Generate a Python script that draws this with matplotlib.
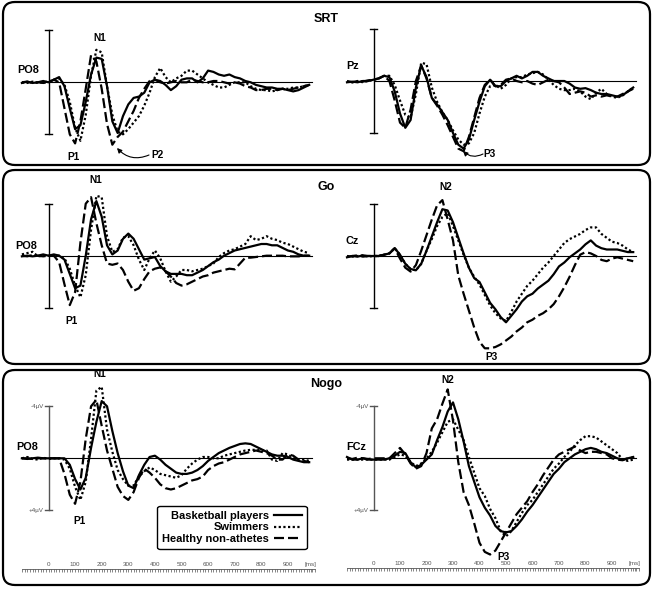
import numpy as np
import matplotlib
matplotlib.use("Agg")
import matplotlib.pyplot as plt
from matplotlib.patches import FancyBboxPatch
from matplotlib.lines import Line2D

plt.rcParams['font.family'] = ['Liberation Sans', 'DejaVu Sans']

# sample times (ms)
times = np.arange(-100, 1000, 20)

# amplitudes in microvolts (negative = up)
srt_po8_bb = [0.05, -0.05, 0.05, 0.0, -0.1, 0.0,
              -0.2, -0.4, 0.3, 2.0, 3.6, 3.3, 1.5, -0.6, -1.9, -1.8,
              0.3, 3.0, 3.9, 2.6, 1.7, 1.2, 1.1, 0.8, 0.0, -0.2,
              -0.1, 0.2, 0.6, 0.3, -0.2, -0.3, -0.3, 0.0, -0.3, -0.9,
              -0.8, -0.6, -0.5, -0.6, -0.4, -0.3, -0.1, 0.0, 0.2, 0.3,
              0.4, 0.4, 0.5, 0.5, 0.6, 0.7, 0.6, 0.4, 0.2]
srt_po8_sw = [0.0, 0.05, -0.05, 0.05, 0.0, -0.05,
              -0.2, -0.3, 0.2, 1.5, 3.5, 4.5, 2.5, -0.5, -2.5, -2.3,
              0.3, 2.5, 3.8, 4.0, 3.6, 3.1, 2.6, 1.8, 0.8, -0.4,
              -1.1, -0.4, 0.0, -0.3, -0.5, -0.9, -0.9, -0.6, -0.3, 0.0,
              0.2, 0.4, 0.4, 0.2, 0.0, 0.0, 0.0, 0.3, 0.5, 0.6,
              0.6, 0.7, 0.6, 0.5, 0.5, 0.4, 0.4, 0.3, 0.2]
srt_po8_hn = [0.0, -0.05, 0.05, 0.0, 0.05, 0.0,
              -0.2, 0.0, 2.0, 4.0, 4.7, 3.0, 0.5, -2.1, -1.6, 0.5,
              3.2, 4.8, 4.2, 3.8, 3.0, 2.2, 1.2, 0.5, -0.1, -0.2,
              0.0, 0.1, 0.0, -0.1, 0.0, 0.0, -0.2, -0.1, 0.0, 0.0,
              -0.1, -0.1, 0.0, 0.1, 0.0, 0.1, 0.3, 0.4, 0.6, 0.6,
              0.5, 0.5, 0.6, 0.5, 0.6, 0.5, 0.4, 0.3, 0.2]

srt_pz_bb = [0.1, 0.05, 0.1, 0.0, 0.0, -0.1,
             -0.2, -0.4, -0.3, 0.8, 2.5, 3.6, 3.0, 0.5, -1.2, -0.3,
             1.3, 1.8, 2.4, 3.0, 4.0, 4.9, 5.2, 4.5, 3.0, 1.6,
             0.4, -0.1, 0.4, 0.4, 0.0, -0.2, -0.4, -0.2, -0.4, -0.7,
             -0.7, -0.4, -0.2, 0.0, 0.0, 0.0, 0.2, 0.5, 0.6, 0.55,
             0.7, 0.9, 1.0, 1.0, 1.1, 1.2, 1.1, 0.8, 0.5]
srt_pz_sw = [0.05, 0.1, 0.0, 0.1, 0.0, -0.1,
             -0.2, -0.4, -0.4, 0.3, 1.5, 2.6, 2.8, 1.0, -1.4, -1.3,
             0.5, 1.6, 2.4, 3.0, 3.8, 4.5, 4.9, 4.8, 4.0, 2.5,
             1.2, 0.4, 0.3, 0.6, 0.3, -0.2, -0.3, -0.3, -0.5, -0.6,
             -0.7, -0.5, -0.1, 0.3, 0.6, 0.7, 0.7, 0.6, 0.8, 1.2,
             1.4, 0.9, 0.6, 1.0, 1.2, 1.3, 1.1, 0.8, 0.5]
srt_pz_hn = [0.0, 0.1, 0.0, 0.05, -0.05, -0.1,
             -0.2, -0.4, 0.0, 1.5, 3.2, 3.6, 2.2, 0.0, -1.2, -0.2,
             1.3, 1.9, 2.6, 3.4, 4.3, 5.2, 5.4, 4.3, 2.8, 1.3,
             0.3, -0.1, 0.4, 0.3, -0.1, -0.2, 0.0, 0.1, 0.0, 0.2,
             0.3, 0.1, -0.1, 0.0, 0.1, 0.5, 1.0, 0.9, 0.8, 0.9,
             1.2, 1.1, 1.2, 1.1, 1.2, 1.2, 1.0, 0.8, 0.6]

go_po8_bb = [0.05, 0.0, 0.05, 0.0, -0.1, 0.0,
             -0.1, 0.0, 0.3, 1.4, 2.5, 2.3, 0.0, -2.8, -4.2, -3.0,
             -0.8, -0.1, -0.4, -1.3, -1.7, -1.3, -0.5, 0.3, 0.2, 0.1,
             0.8, 1.2, 1.4, 1.4, 1.4, 1.5, 1.5, 1.3, 1.1, 0.8,
             0.5, 0.3, 0.0, -0.2, -0.4, -0.5, -0.6, -0.7, -0.8, -0.9,
             -0.9, -0.8, -0.8, -0.6, -0.4, -0.3, -0.1, 0.0, 0.0]
go_po8_sw = [-0.1, -0.2, -0.3, 0.05, 0.0, 0.0,
             0.0, 0.0, 0.2, 1.0, 2.3, 3.2, 1.5, -2.0, -4.6, -4.5,
             -1.5, -0.3, -0.5, -1.4, -1.5, -0.8, 0.3, 1.1, 0.2, -0.4,
             0.2, 1.2, 2.0, 1.6, 1.1, 1.1, 1.2, 1.1, 1.0, 0.8,
             0.6, 0.1, -0.2, -0.4, -0.5, -0.7, -0.9, -1.5, -1.2, -1.3,
             -1.5, -1.3, -1.2, -1.0, -0.9, -0.7, -0.5, -0.3, -0.2]
go_po8_hn = [0.0, 0.05, -0.05, 0.0, 0.05, 0.0,
             0.0, 0.5, 2.2, 3.8, 2.8, -1.0, -4.0, -4.5, -2.5, -0.8,
             0.6, 0.7, 0.6, 1.1, 2.0, 2.7, 2.5, 1.8, 1.2, 1.0,
             0.9, 1.2, 1.6, 2.1, 2.3, 2.2, 2.0, 1.8, 1.6, 1.5,
             1.3, 1.2, 1.1, 1.0, 1.05, 0.6, 0.15, 0.15, 0.1, 0.05,
             0.0, 0.0, 0.0, 0.0, 0.05, 0.05, 0.05, 0.0, 0.0]

go_cz_bb = [0.1, 0.0, 0.05, -0.05, 0.0, 0.0,
            0.0, -0.1, -0.2, -0.6, -0.1, 0.6, 1.0, 1.1, 0.6, -0.4,
            -1.5, -2.6, -3.6, -3.5, -2.6, -1.4, -0.2, 0.9, 1.7, 2.0,
            2.8, 3.6, 4.1, 4.7, 5.1, 4.6, 4.1, 3.5, 3.1, 2.9,
            2.5, 2.2, 1.9, 1.4, 0.8, 0.5, 0.1, -0.2, -0.5, -0.9,
            -1.2, -0.8, -0.6, -0.5, -0.5, -0.5, -0.4, -0.3, -0.3]
go_cz_sw = [0.0, 0.05, 0.0, -0.05, 0.05, 0.0,
            0.0, -0.1, -0.2, -0.6, -0.1, 0.6, 1.0, 1.1, 0.6, -0.4,
            -1.3, -2.3, -3.0, -3.3, -2.3, -1.2, -0.1, 0.9, 1.6, 2.2,
            3.0, 3.8, 4.4, 4.8, 5.0, 4.3, 3.5, 2.9, 2.3, 1.9,
            1.4, 0.9, 0.5, 0.0, -0.5, -1.0, -1.3, -1.5, -1.7, -2.0,
            -2.2, -2.2, -1.7, -1.4, -1.1, -1.0, -0.8, -0.5, -0.3]
go_cz_hn = [0.05, 0.0, -0.05, 0.05, 0.0, 0.0,
            0.0, -0.1, -0.2, -0.6, 0.2, 0.9, 1.2, 0.7, -0.4, -1.6,
            -2.8, -3.9, -4.3, -2.8, -1.2, 1.5, 2.9, 4.2, 5.5, 6.6,
            7.1, 7.1, 7.0, 6.8, 6.5, 6.2, 5.8, 5.5, 5.1, 4.9,
            4.6, 4.4, 4.1, 3.7, 3.1, 2.4, 1.6, 0.7, -0.1, -0.3,
            -0.2, 0.0, 0.3, 0.4, 0.2, 0.1, 0.2, 0.3, 0.4]

nogo_po8_bb = [0.0, 0.05, 0.0, -0.05, 0.0, 0.0,
               0.0, 0.0, 0.0, 0.5, 1.6, 2.4, 1.5, -0.8, -2.8, -4.4,
               -4.0, -2.1, -0.4, 1.0, 2.1, 2.3, 1.3, 0.5, -0.1, -0.2,
               0.1, 0.5, 0.8, 1.1, 1.2, 1.2, 1.1, 0.9, 0.6, 0.2,
               -0.1, -0.4, -0.6, -0.8, -0.95, -1.1, -1.15, -1.1, -0.9, -0.7,
               -0.5, -0.3, -0.2, -0.2, -0.1, 0.1, 0.2, 0.3, 0.3]
nogo_po8_sw = [0.0, -0.1, 0.05, 0.1, -0.05, 0.05,
               0.0, 0.0, 0.1, 0.8, 2.2, 3.2, 1.8, -1.5, -5.2, -5.5,
               -2.2, -0.5, 0.9, 1.6, 2.1, 2.1, 1.4, 1.0, 0.7, 0.9,
               1.2, 1.3, 1.4, 1.5, 1.3, 0.8, 0.4, 0.1, -0.1, -0.1,
               0.0, 0.0, -0.2, -0.3, -0.4, -0.5, -0.6, -0.65, -0.65, -0.6,
               -0.6, 0.1, 0.2, -0.4, -0.3, 0.0, 0.1, 0.1, 0.2]
nogo_po8_hn = [0.0, 0.0, 0.05, 0.0, 0.0, 0.0,
               0.0, 0.0, 1.2, 2.8, 3.5, 1.8, -1.5, -4.0, -4.5, -2.5,
               -0.6, 0.8, 2.2, 2.9, 3.2, 2.6, 1.5, 0.8, 1.1, 1.5,
               2.0, 2.3, 2.4, 2.3, 2.1, 1.9, 1.7, 1.6, 1.4, 0.9,
               0.6, 0.4, 0.3, 0.1, -0.1, -0.3, -0.4, -0.5, -0.6, -0.5,
               -0.4, -0.2, 0.1, 0.1, -0.3, -0.2, 0.1, 0.2, 0.3]

nogo_fcz_bb = [-0.1, 0.1, 0.1, 0.0, 0.1, 0.1,
               0.1, 0.1, 0.0, -0.2, -0.5, -0.4, 0.3, 0.7, 0.5, 0.1,
               -0.3, -1.4, -2.4, -3.6, -4.3, -3.0, -1.3, 0.6, 1.8, 3.0,
               3.8, 4.4, 5.2, 5.6, 5.7, 5.6, 5.2, 4.7, 4.1, 3.6,
               3.0, 2.4, 1.8, 1.2, 0.8, 0.3, 0.0, -0.3, -0.5, -0.7,
               -0.8, -0.7, -0.5, -0.4, -0.2, 0.0, 0.1, 0.0, -0.1]
nogo_fcz_sw = [0.1, 0.1, 0.1, 0.1, 0.1, 0.1,
               0.1, 0.1, 0.1, -0.1, -0.3, -0.2, 0.3, 0.6, 0.4, 0.0,
               -0.5, -1.2, -2.0, -2.8, -3.0, -2.2, -1.4, -0.1, 1.1, 2.3,
               2.9, 3.9, 4.6, 5.6, 6.0, 5.6, 4.9, 4.2, 3.6, 3.2,
               2.6, 2.0, 1.4, 0.8, 0.4, -0.1, -0.5, -1.0, -1.4, -1.7,
               -1.7, -1.6, -1.3, -1.0, -0.7, -0.4, 0.1, 0.2, 0.1]
nogo_fcz_hn = [0.0, 0.05, -0.05, 0.0, 0.05, 0.0,
               0.0, 0.0, 0.0, -0.4, -0.8, -0.3, 0.4, 0.8, 0.6, -0.4,
               -2.3, -3.0, -4.2, -5.3, -2.9, 0.3, 2.6, 3.6, 5.0, 6.5,
               7.2, 7.4, 7.1, 6.4, 5.7, 5.0, 4.3, 3.8, 3.3, 2.6,
               2.0, 1.3, 0.7, 0.1, -0.3, -0.5, -0.7, -0.9, -0.6, -0.4,
               -0.5, -0.5, -0.4, -0.3, 0.0, 0.1, 0.15, 0.0, -0.1]

groups = ['Basketball players', 'Swimmers', 'Healthy non-athetes']
tick_ms = [0, 100, 200, 300, 400, 500, 600, 700, 800, 900]

W, H = 653, 589
PX_UV = 13.0   # pixels per microvolt

styles = [dict(ls='-', lw=1.6),
          dict(ls=(0, (1, 1.1)), lw=1.6),
          dict(ls=(0, (4.5, 1.8)), lw=1.6)]


def fx(x):
    return x / W


def fy(y):
    return 1 - y / H


fig = plt.figure(figsize=(6.53, 5.89), dpi=100)

# rounded panel frames
for y0, y1 in [(2, 165), (170, 364), (370, 585)]:
    box = FancyBboxPatch((0.03, (H - y1) / 100), 6.47, (y1 - y0) / 100,
                         boxstyle='round,pad=0,rounding_size=0.12',
                         transform=fig.dpi_scale_trans, fill=False,
                         lw=1.6, ec='black')
    fig.add_artist(box)


def make_ax(zero_x, ppm, base_y, top, bottom):
    tmin, tmax = -120, 1000
    left = zero_x + tmin * ppm
    right = zero_x + tmax * ppm
    ax = fig.add_axes([fx(left), fy(bottom), (right - left) / W, (bottom - top) / H])
    ax.set_xlim(tmin, tmax)
    ax.set_ylim((bottom - base_y) / PX_UV, -(base_y - top) / PX_UV)
    ax.patch.set_visible(False)
    for s in ax.spines.values():
        s.set_visible(False)
    ax.set_xticks([])
    ax.set_yticks([])
    return ax


def draw(ax, traces, bar_color='black'):
    ax.plot([0, 990], [0, 0], color='black', lw=0.8)
    ax.plot([0, 0], [-4, 4], color=bar_color, lw=1.0)
    for yy in (-4, 4):
        ax.plot([-14, 14], [yy, yy], color=bar_color, lw=1.0)
    for vals, st in zip(traces, styles):
        ax.plot(times, vals, color='black', solid_joinstyle='round',
                dash_capstyle='butt', **st)


def time_axis(ax, y_uv):
    sp = ax.spines['top']
    sp.set_visible(True)
    sp.set_position(('data', y_uv))
    sp.set_bounds(-100, 1000)
    sp.set_linewidth(0.6)
    sp.set_color('#555555')
    ax.xaxis.tick_top()
    ax.set_xticks(tick_ms + [985])
    ax.set_xticklabels([str(t) for t in tick_ms] + ['[ms]'])
    ax.set_xticks(np.arange(-100, 1001, 10), minor=True)
    ax.tick_params(axis='x', which='both', direction='in', length=1.8,
                   width=0.5, colors='#555555', labelsize=4.5, pad=1.5)


L0, LPPM = 48.5, 0.266
R0, RPPM = 373.5, 0.265

panels = [
    (22, 163, 82.3, 81.0, [srt_po8_bb, srt_po8_sw, srt_po8_hn], [srt_pz_bb, srt_pz_sw, srt_pz_hn]),
    (174, 362, 255.7, 256.0, [go_po8_bb, go_po8_sw, go_po8_hn], [go_cz_bb, go_cz_sw, go_cz_hn]),
    (372, 583, 458.3, 458.3, [nogo_po8_bb, nogo_po8_sw, nogo_po8_hn], [nogo_fcz_bb, nogo_fcz_sw, nogo_fcz_hn]),
]

for i, (top, bot, bl, br, left_tr, right_tr) in enumerate(panels):
    bar_color = '#555555' if i == 2 else 'black'
    axl = make_ax(L0, LPPM, bl, top, bot)
    axr = make_ax(R0, RPPM, br, top, bot)
    draw(axl, left_tr, bar_color)
    draw(axr, right_tr, bar_color)
    if i == 2:
        time_axis(axl, (569 - bl) / PX_UV)
        time_axis(axr, (568 - br) / PX_UV)
        for ax in (axl, axr):
            ax.text(-17, -4, '-4\u00b5V', ha='right', va='center', fontsize=4.5, color='#555555')
            ax.text(-17, 4, '+4\u00b5V', ha='right', va='center', fontsize=4.5, color='#555555')


def label(x, y, s, size=7.8, ha='center'):
    fig.text(fx(x), fy(y), s, ha=ha, va='center', fontsize=size, fontweight='bold')


# condition titles
label(326, 19, 'SRT', 9)
label(326, 187, 'Go', 9)
label(326, 384, 'Nogo', 9)

# electrode labels
label(17, 70, 'PO8', ha='left')
label(346, 66, 'Pz', ha='left')
label(15, 246, 'PO8', ha='left')
label(346, 241, 'Cz', ha='left')
label(16, 447, 'PO8', ha='left')
label(346, 447, 'FCz', ha='left')

# component labels
label(100, 38, 'N1', 7.3)
label(74, 157, 'P1', 7.3)
label(157, 155, 'P2', 7.3)
label(490, 154, 'P3', 7.3)
label(96, 180, 'N1', 7.3)
label(71, 321, 'P1', 7.3)
label(446, 187, 'N2', 7.3)
label(492, 357, 'P3', 7.3)
label(100, 374, 'N1', 7.3)
label(80, 521, 'P1', 7.3)
label(448, 380, 'N2', 7.3)
label(504, 557, 'P3', 7.3)

arrow = dict(arrowstyle='-|>', connectionstyle='arc3,rad=-0.35', lw=0.8,
             color='black', mutation_scale=7, shrinkA=0, shrinkB=0)
fig.axes[0].annotate('', xy=(117, H - 148), xytext=(149, H - 155),
                     xycoords='figure pixels', textcoords='figure pixels', arrowprops=arrow)
fig.axes[0].annotate('', xy=(463, H - 151), xytext=(483, H - 154),
                     xycoords='figure pixels', textcoords='figure pixels', arrowprops=arrow)

handles = [Line2D([], [], color='black', **st) for st in styles]
leg = fig.legend(handles, groups, loc='center', bbox_to_anchor=(fx(232), fy(527.5)),
                 markerfirst=False, prop={'weight': 'bold', 'size': 8},
                 handlelength=2.5, handletextpad=0.4, labelspacing=0.12,
                 borderpad=0.45, fancybox=True, framealpha=1, edgecolor='black')
leg.get_frame().set_linewidth(1.0)

fig.savefig('out.png', dpi=100)
